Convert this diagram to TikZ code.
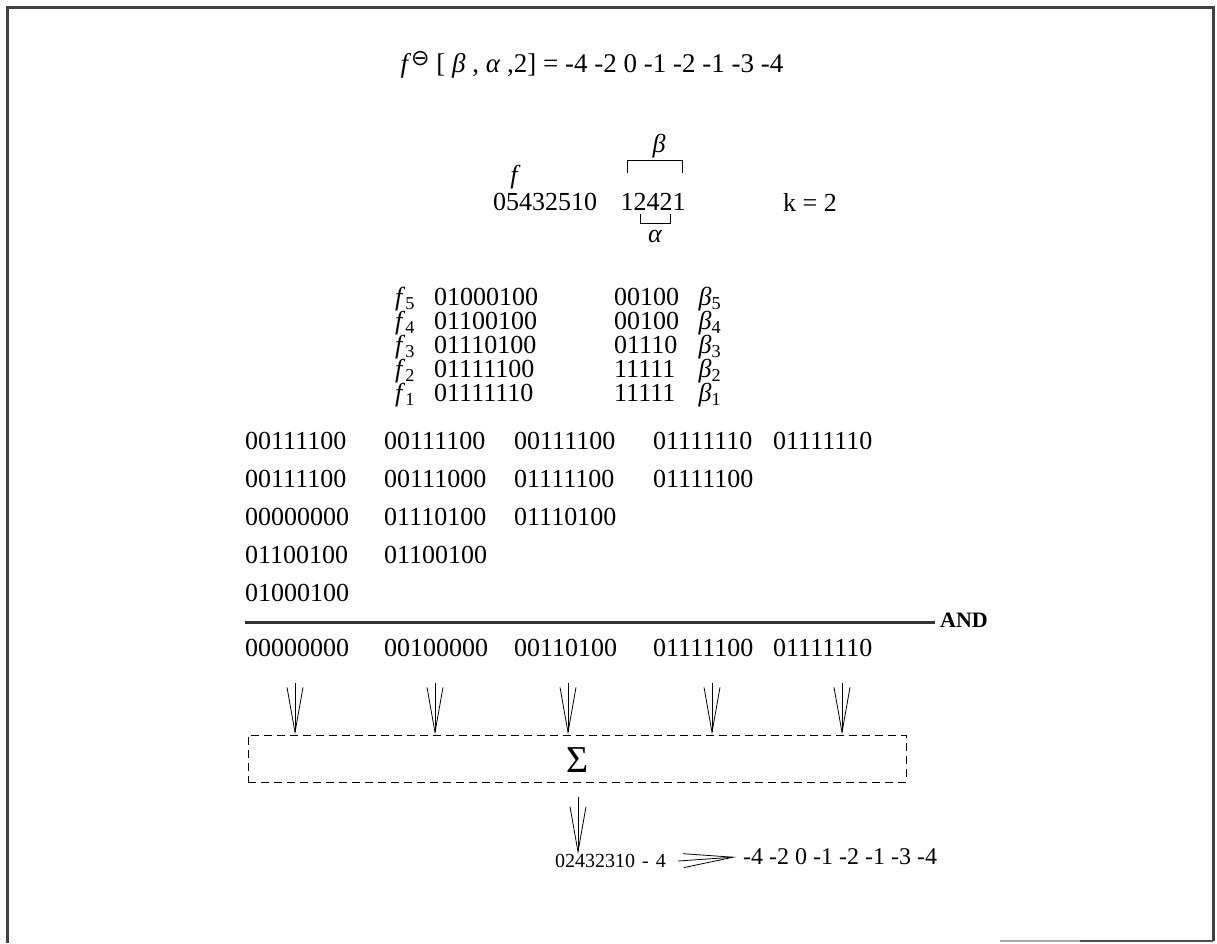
\documentclass[tikz,border=0pt]{standalone}
\usepackage{fontspec}
\setmainfont{Liberation Serif}
\newfontfamily\symfont{DejaVu Sans}
\usetikzlibrary{arrows.meta}
\begin{document}
\begin{tikzpicture}[x=1pt,y=-1pt,
  txt/.style={inner sep=0pt, font=\fontsize{26}{30}\selectfont},
  bin/.style={txt, anchor=west},
  row/.style={text height=16pt, text depth=3pt},
  lab/.style={inner sep=0pt, font=\fontsize{26}{30}\selectfont\itshape},
  arr/.style={line width=0.8pt, -{Straight Barb[length=45pt,width=16pt,line width=0.8pt]}},
  frame/.style={line width=3pt, black!75},
  brk/.style={line width=0.9pt}]
\useasboundingbox (0,0) rectangle (1217,943);
% frame
\draw[frame] (1213,941) -- (1213,7) -- (7,7) -- (7,943);
\draw[line width=2pt, black!35] (1000,941) -- (1080,941);
\draw[line width=2pt, black!70] (1080,941) -- (1213,941);
% title
\node[txt, font=\fontsize{27}{30}\selectfont] (title) at (592,65) {\textit{f}\raisebox{7pt}{\symfont\fontsize{22}{22}\selectfont ⊖} [ \textit{β} , \textit{α} ,2] = -4 -2 0 -1 -2 -1 -3 -4};
% f, beta, alpha
\node[lab] (flab) at (514,177) {f};
\node[txt] (fval) at (545,202) {05432510};
\node[txt] (bval) at (653,202) {12421};
\node[lab] (blab) at (659,146) {β};
\draw[brk] (627,173) -- (627,160) -- (682,160) -- (682,173);
\draw[brk] (640,214) -- (640,223) -- (670,223) -- (670,214);
\node[lab] (alab) at (655,236) {α};
\node[txt] (k) at (810,202) {k = 2};
% decomposition rows
\foreach \i/\y/\fs/\bs in {5/299/01000100/00100, 4/323/01100100/00100, 3/347/01110100/01110, 2/371/01111100/11111, 1/395/01111110/11111}{
  \node[txt, row] (fl\i) at (405,\y) {\textit{f}\textsubscript{\i}};
  \node[bin, row] (fs\i) at (434,\y) {\fs};
  \node[bin, row] (bs\i) at (614,\y) {\bs};
  \node[txt, row] (bl\i) at (710,\y) {\textit{β}\textsubscript{\i}};
}
% big table
\node[bin] (r11) at (245,441) {00111100};
\node[bin] (r12) at (384,441) {00111100};
\node[bin] (r13) at (514,441) {00111100};
\node[bin] (r14) at (653,441) {01111110};
\node[bin] (r15) at (773,441) {01111110};
\node[bin] (r21) at (245,479) {00111100};
\node[bin] (r22) at (384,479) {00111000};
\node[bin] (r23) at (514,479) {01111100};
\node[bin] (r24) at (653,479) {01111100};
\node[bin] (r31) at (245,517) {00000000};
\node[bin] (r32) at (384,517) {01110100};
\node[bin] (r33) at (514,517) {01110100};
\node[bin] (r41) at (245,555) {01100100};
\node[bin] (r42) at (384,555) {01100100};
\node[bin] (r51) at (245,593) {01000100};
% AND line
\node[inner sep=0pt, anchor=west, font=\fontsize{22}{24}\selectfont\bfseries] (and) at (940,620) {AND};
\coordinate (lstart) at (245,622);
\draw[line width=3pt, black!80] (lstart) -- ([xshift=-5pt]lstart -| and.west);
% results
\node[bin] (s1) at (245,648) {00000000};
\node[bin] (s2) at (384,648) {00100000};
\node[bin] (s3) at (514,648) {00110100};
\node[bin] (s4) at (653,648) {01111100};
\node[bin] (s5) at (773,648) {01111110};
% sum box
\node[draw, line width=0.8pt, dash pattern=on 8pt off 5pt, inner sep=0pt, minimum width=658pt, minimum height=47pt] (box) at (577,758.5) {};
\node[inner sep=0pt, font=\fontsize{38}{40}\selectfont] (sig) at (578,760) {Σ};
\foreach \n/\x in {1/295, 2/435, 3/568, 4/712, 5/842}{
  \coordinate (a\n) at (\x,683);
  \draw[arr] (a\n) -- (a\n |- box.north);
}
% result
\node[inner sep=0pt, anchor=west, font=\fontsize{20}{24}\selectfont] (fin) at (555,861) {02432310\hspace{7pt}-\hspace{7pt}4};
\coordinate (a6) at (578,797);
\draw[arr] (a6) -- (a6 |- fin.north);
\node[bin, font=\fontsize{24}{28}\selectfont] (res) at (743,857) {-4 -2 0 -1 -2 -1 -3 -4};
\draw[line width=0.8pt, -{Straight Barb[length=50pt,width=14pt,line width=0.8pt]}] ([xshift=12pt]fin.east) -- ([xshift=-7pt]res.west);
\end{tikzpicture}
\end{document}
